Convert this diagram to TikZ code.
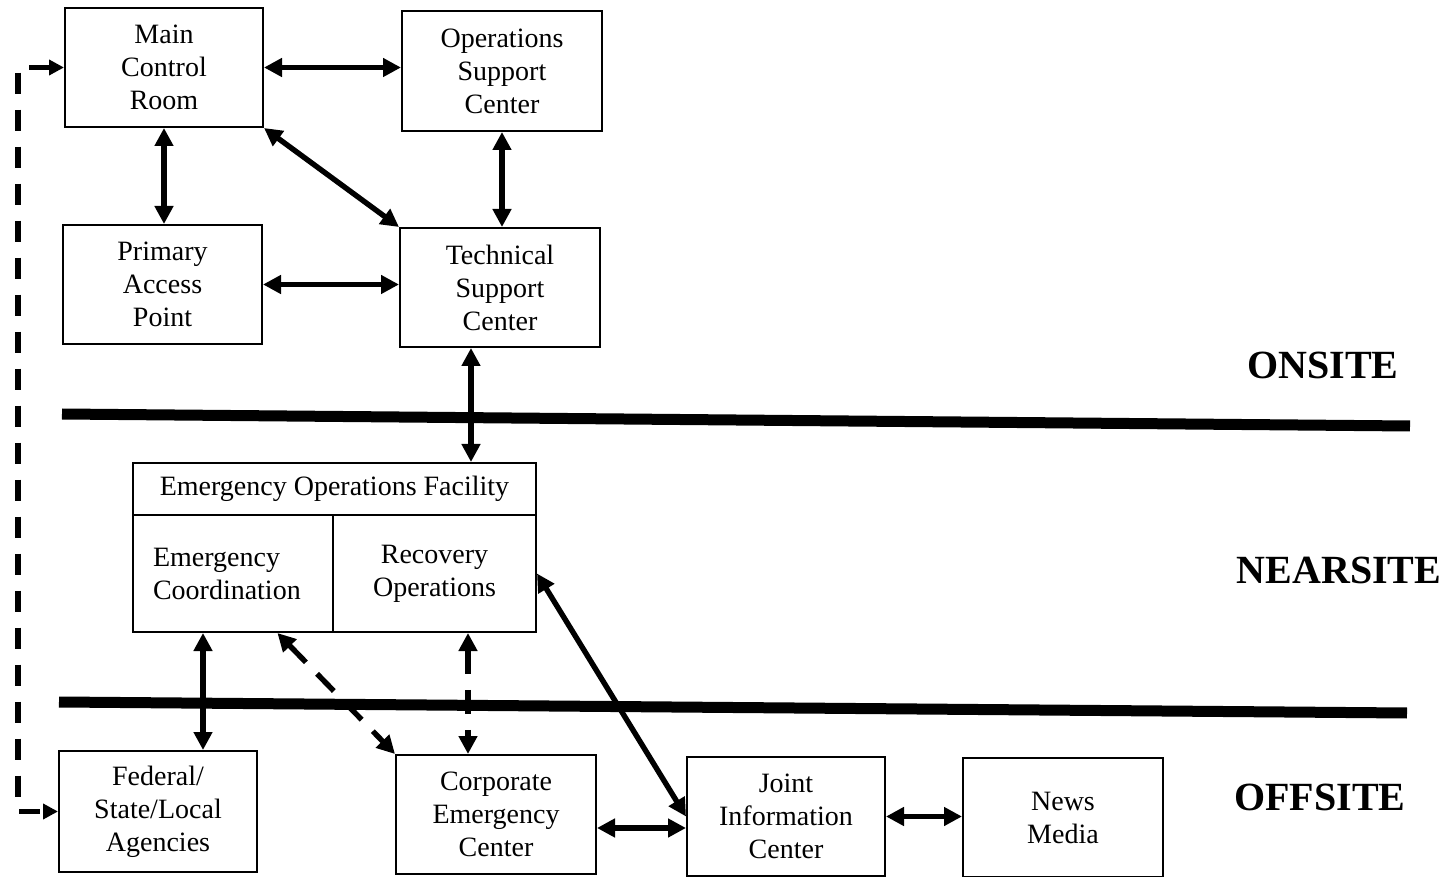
\documentclass[tikz,border=0pt]{standalone}
\usepackage{fontspec}
\setmainfont{Liberation Serif}
\usetikzlibrary{arrows.meta,calc}
\begin{document}
\begin{tikzpicture}[x=0.5pt,y=-0.5pt,
  box/.style={draw,line width=1pt,rectangle,inner sep=0pt,align=center,
    font=\fontsize{14}{16.5}\selectfont},
  link/.style={line width=2.7pt,{Triangle[length=9pt,width=9pt]}-{Triangle[length=9pt,width=9pt]}},
  dlink/.style={link,dash pattern=on 12pt off 8pt},
  loop/.style={line width=2.6pt,dash pattern=on 10.5pt off 8pt,{Triangle[length=7.5pt,width=7.5pt]}-{Triangle[length=7.5pt,width=7.5pt]}},
  sep/.style={line width=5.5pt},
  zone/.style={font=\fontsize{20}{24}\selectfont\bfseries}]
\useasboundingbox (0,0) rectangle (1448,877);

\node[box,minimum width=99pt,minimum height=59.5pt] (mcr) at (164,67.5) {Main\\Control\\Room};
\node[box,minimum width=100pt,minimum height=60pt] (osc) at (502,71) {Operations\\Support\\Center};
\node[box,minimum width=99.5pt,minimum height=59.5pt] (pap) at (162.5,284.5) {Primary\\Access\\Point};
\node[box,minimum width=100pt,minimum height=59.5pt] (tsc) at (500,287.5) {Technical\\Support\\Center};

\node[box,minimum width=201.5pt,minimum height=26pt] (eof) at (334.5,489) {Emergency Operations Facility};
\node[box,minimum width=100pt,minimum height=58.5pt,align=left,text width=80pt] (ec) at (233,573.5) {Emergency\\Coordination};
\node[box,minimum width=101.5pt,minimum height=58.5pt] (ro) at (434.5,573.5) {Recovery\\Operations};

\node[box,minimum width=99pt,minimum height=60.5pt] (fed) at (158,811.5) {Federal/\\State/Local\\Agencies};
\node[box,minimum width=100pt,minimum height=59.5pt] (cec) at (496,814.5) {Corporate\\Emergency\\Center};
\node[box,minimum width=99pt,minimum height=59.5pt] (jic) at (786,816.5) {Joint\\Information\\Center};
\node[box,minimum width=100pt,minimum height=59.5pt] (news) at (1063,817.5) {News\\Media};

\node[zone] (onsite) at (1323,365) {ONSITE};
\node[zone] (nearsite) at (1339,570) {NEARSITE};
\node[zone] (offsite) at (1320,797) {OFFSITE};

\coordinate (s1a) at (62,414);
\coordinate (s1b) at (1410,426);
\coordinate (s2a) at (59,702);
\coordinate (s2b) at (1407,713);
\draw[sep] (s1a) -- (s1b);
\draw[sep] (s2a) -- (s2b);

\draw[link] (mcr.east) -- (mcr.east -| osc.west);
\draw[link] (mcr.south) -- (mcr.south |- pap.north);
\draw[link] (mcr.south east) -- (tsc.north west);
\draw[link] (osc.south) -- (osc.south |- tsc.north);
\draw[link] (pap.east) -- (pap.east -| tsc.west);
\draw[link] ([xshift=-14.5pt]tsc.south) -- ([xshift=-14.5pt]tsc.south |- eof.north);
\draw[link] ([xshift=-15pt]ec.south) -- ([xshift=-15pt]ec.south |- fed.north);
\draw[dlink] ($(ec.south west)!0.72!(ec.south east)$) -- (cec.north west);
\draw[dlink] ([xshift=16.75pt]ro.south) -- ([xshift=16.75pt]ro.south |- cec.north);
\draw[link] (ro.east) -- (jic.west);
\draw[link] ([yshift=-6.75pt]cec.east) -- ([yshift=-6.75pt]cec.east -| jic.west);
\draw[link] (jic.east) -- (jic.east -| news.west);

\coordinate (lx) at (18,0);
\draw[loop] (mcr.west) -- (mcr.west -| lx) -- (fed.west -| lx) -- (fed.west);
\end{tikzpicture}
\end{document}
